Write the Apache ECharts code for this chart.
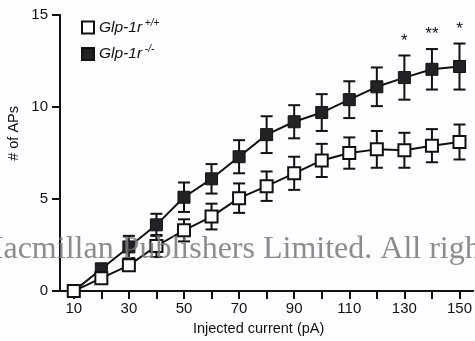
<!DOCTYPE html>
<html>
<head>
<meta charset="utf-8">
<script src="https://cdn.jsdelivr.net/npm/echarts@6/dist/echarts.min.js"></script>
<style>
  html, body { margin: 0; padding: 0; background: #fdfdff; }
  #chart { width: 475px; height: 341px; }
</style>
</head>
<body>
<div id="chart"></div>
<script>
// injected current (pA)
var currents = [10, 20, 30, 40, 50, 60, 70, 80, 90, 100, 110, 120, 130, 140, 150];
// Glp-1r +/+ (open squares)
var wtMean = [0, 0.7, 1.4, 2.45, 3.3, 4.05, 5.05, 5.7, 6.4, 7.1, 7.5, 7.7, 7.65, 7.9, 8.1];
var wtErr = [0, 0.2, 0.3, 0.6, 0.6, 0.7, 0.8, 0.8, 0.9, 0.9, 0.85, 1.0, 0.95, 0.9, 0.95];
// Glp-1r -/- (filled squares)
var koMean = [0, 1.2, 2.4, 3.6, 5.1, 6.1, 7.3, 8.5, 9.2, 9.7, 10.4, 11.1, 11.6, 12.05, 12.2];
var koErr = [0, 0.3, 0.6, 0.6, 0.8, 0.8, 0.9, 1.0, 0.9, 1.0, 1.0, 1.05, 1.2, 1.1, 1.25];
// significance marks
var sigCurrents = [130, 140, 150];
var sigMarks = ['*', '**', '*'];
var xTicks = [10, 20, 30, 40, 50, 60, 70, 80, 90, 100, 110, 120, 130, 140, 150];
var xLabels = [10, 30, 50, 70, 90, 110, 130, 150];
var yTicks = [0, 5, 10, 15];
var seriesNames = ['Glp-1r +/+', 'Glp-1r -/-'];
var seriesSup = ['+/+', '-/-'];

var myChart = echarts.init(document.getElementById('chart'));

function pairs(xs, ys) {
	return xs.map(function (x, i) { return [x, ys[i]]; });
}
function errData(xs, m, e) {
	return xs.map(function (x, i) { return [x, m[i] - e[i], m[i] + e[i]]; });
}

function renderErr(params, api) {
	var x = api.value(0);
	var lo = api.coord([x, api.value(1)]);
	var hi = api.coord([x, api.value(2)]);
	var w = 6;
	var st = { stroke: '#111', lineWidth: 2 };
	return {
		type: 'group',
		children: [
			{ type: 'line', shape: { x1: lo[0], y1: lo[1], x2: hi[0], y2: hi[1] }, style: st },
			{ type: 'line', shape: { x1: lo[0] - w, y1: lo[1], x2: lo[0] + w, y2: lo[1] }, style: st },
			{ type: 'line', shape: { x1: hi[0] - w, y1: hi[1], x2: hi[0] + w, y2: hi[1] }, style: st }
		]
	};
}

var sigData = sigCurrents.map(function (c, i) {
	var k = currents.indexOf(c);
	return [c, koMean[k] + koErr[k], sigMarks[i]];
});

var option = {
	backgroundColor: '#fdfdff',
	animation: false,
	textStyle: { fontFamily: 'Liberation Sans, Arial, sans-serif' },
	legend: {
		orient: 'vertical',
		left: 76,
		top: 13,
		itemWidth: 12,
		itemHeight: 12,
		itemGap: 9,
		icon: 'rect',
		data: [
			{ name: seriesNames[0], itemStyle: { color: '#fff', borderColor: '#111', borderWidth: 2 } },
			{ name: seriesNames[1], itemStyle: { color: '#222', borderColor: '#111', borderWidth: 2 } }
		],
		formatter: function (name) {
			return '{i|Glp-1r}{s| ' + seriesSup[seriesNames.indexOf(name)] + '}';
		},
		textStyle: {
			rich: {
				i: { fontSize: 15.5, fontStyle: 'italic', color: '#111' },
				s: { fontSize: 10, fontStyle: 'italic', color: '#111', padding: [0, 0, 9, 0] }
			}
		}
	},
	grid: { left: 60, right: 1, top: 15, bottom: 49 },
	xAxis: {
		type: 'value',
		min: 5,
		max: 155,
		name: 'Injected current (pA)',
		nameLocation: 'middle',
		nameGap: 28,
		nameTextStyle: { fontSize: 14.5, color: '#111', padding: [0, 16, 0, 0] },
		splitLine: { show: false },
		axisLine: { onZero: false, lineStyle: { color: '#111', width: 2 } },
		axisTick: { length: 8, lineStyle: { color: '#111', width: 2 }, customValues: xTicks },
		axisLabel: { fontSize: 15, color: '#111', margin: 10, customValues: xLabels }
	},
	yAxis: {
		type: 'value',
		min: 0,
		max: 15,
		interval: 5,
		splitLine: { show: false },
		axisLine: { show: true, lineStyle: { color: '#111', width: 2 } },
		axisTick: { show: true, length: 8, lineStyle: { color: '#111', width: 2 }, customValues: yTicks },
		axisLabel: { fontSize: 15, color: '#111', margin: 12 }
	},
	graphic: [
		{
			type: 'text',
			left: 6,
			top: 106,
			rotation: Math.PI / 2,
			style: { text: '# of APs', fontSize: 14.5, fill: '#111', fontFamily: 'Liberation Sans, Arial, sans-serif' }
		},
		{
			type: 'text',
			left: -25,
			top: 234,
			z: 100,
			silent: true,
			style: {
				text: 'Macmillan Publishers Limited. All rights reserved.',
				fontSize: 32,
				fontFamily: 'Liberation Serif, Times New Roman, serif',
				fill: 'rgba(120,120,120,0.85)'
			}
		}
	],
	series: [
		{
			type: 'custom',
			renderItem: renderErr,
			data: errData(currents, koMean, koErr),
			z: 1,
			encode: { x: 0, y: [1, 2] }
		},
		{
			type: 'custom',
			renderItem: renderErr,
			data: errData(currents, wtMean, wtErr),
			z: 1,
			encode: { x: 0, y: [1, 2] }
		},
		{
			name: seriesNames[1],
			type: 'line',
			data: pairs(currents, koMean),
			symbol: 'rect',
			symbolSize: 12,
			z: 3,
			lineStyle: { color: '#111', width: 2 },
			itemStyle: { color: '#222', borderColor: '#111', borderWidth: 1 }
		},
		{
			name: seriesNames[0],
			type: 'line',
			data: pairs(currents, wtMean),
			symbol: 'rect',
			symbolSize: 12,
			z: 4,
			lineStyle: { color: '#111', width: 2 },
			itemStyle: { color: '#fff', borderColor: '#111', borderWidth: 2 }
		},
		{
			type: 'custom',
			data: sigData,
			z: 5,
			encode: { x: 0, y: 1 },
			renderItem: function (params, api) {
				var p = api.coord([api.value(0), api.value(1)]);
				return {
					type: 'text',
					x: p[0],
					y: p[1] - 6,
					style: {
						text: sigData[params.dataIndex][2],
						fontSize: 17,
						fill: '#111',
						align: 'center',
						verticalAlign: 'bottom',
						fontFamily: 'Liberation Sans, Arial, sans-serif'
					}
				};
			}
		}
	]
};
myChart.setOption(option);
</script>
</body>
</html>
